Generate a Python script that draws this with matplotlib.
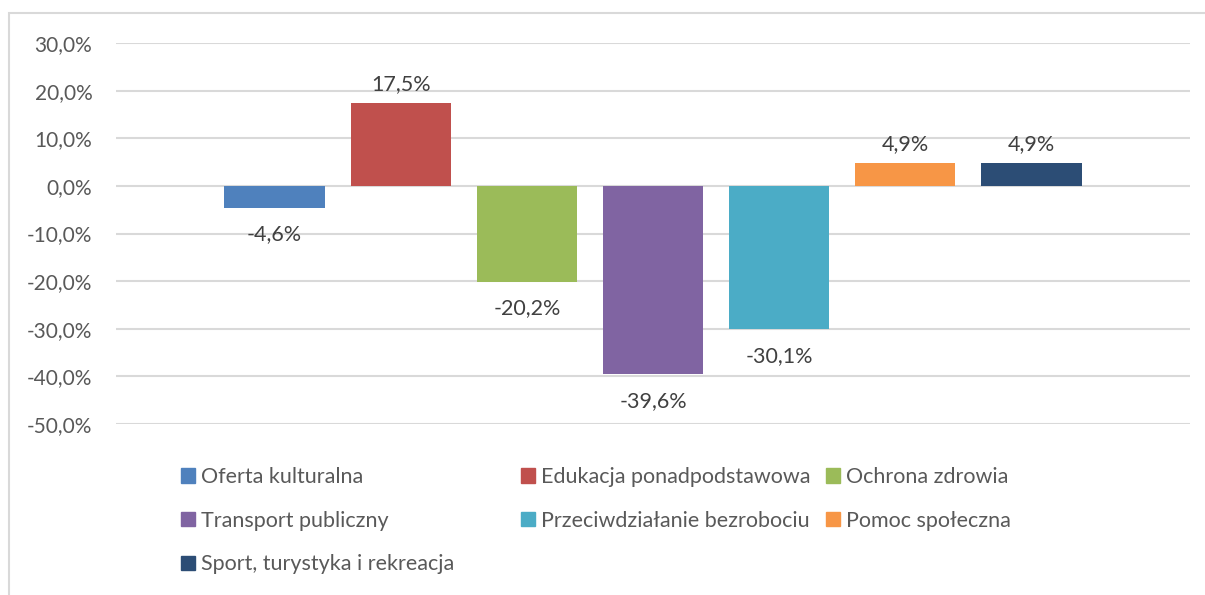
import matplotlib
matplotlib.use("Agg")
import matplotlib.pyplot as plt
from matplotlib.patches import Rectangle, Patch

plt.rcParams['font.family'] = ['Lato', 'DejaVu Sans']

categories = ['Oferta kulturalna', 'Edukacja ponadpodstawowa', 'Ochrona zdrowia',
              'Transport publiczny', 'Przeciwdziałanie bezrobociu', 'Pomoc społeczna',
              'Sport, turystyka i rekreacja']
values = [-4.6, 17.5, -20.2, -39.6, -30.1, 4.9, 4.9]
colors = ['#4F81BD', '#C0504D', '#9BBB59', '#8064A2', '#4BACC6', '#F79646', '#2C4D75']
yticks = [30, 20, 10, 0, -10, -20, -30, -40, -50]

txt = '#595959'
grid = '#D9D9D9'
W, H = 1205, 595

fig = plt.figure(figsize=(W / 100, H / 100), dpi=100)
ax = fig.add_axes([116 / W, 1 - 424 / H, (1190 - 116) / W, (424 - 43) / H])

def pct(v):
    return f'{v:.1f}%'.replace('.', ',')

for i, (v, c) in enumerate(zip(values, colors)):
    ax.bar(i, v, width=0.793, color=c, zorder=3)
    off = 13 if v >= 0 else -19
    ax.annotate(pct(v), (i, v), xytext=(0, off), textcoords='offset points',
                ha='center', va='center', fontsize=15.5, color='#404040')

ax.set_xlim(-1.256, 7.256)
ax.set_ylim(-50, 30)
ax.set_yticks(yticks)
ax.set_yticklabels([pct(t) for t in yticks])
ax.set_xticks([])
ax.tick_params(axis='y', length=0, pad=17, labelsize=15, labelcolor=txt)
ax.grid(axis='y', color=grid, linewidth=1.5, zorder=0)
for s in ax.spines.values():
    s.set_visible(False)

# chart frame
fig.patches.append(Rectangle((9 / W, -0.1), 1.2, 1.1 - 13 / H, transform=fig.transFigure,
                             fill=False, edgecolor=grid, linewidth=1.5))

# legend in three columns, filled row by row
col_x = [181, 521, 826]
for col in range(3):
    idx = list(range(col, len(categories), 3))
    handles = [Patch(color=colors[i], label=categories[i]) for i in idx]
    fig.legend(handles=handles, loc='upper left',
               bbox_to_anchor=(col_x[col] / W, 1 - 467 / H), frameon=False,
               fontsize=15.5, labelcolor=txt, handlelength=0.65, handleheight=0.65,
               handletextpad=0.3, labelspacing=1.1, borderpad=0, borderaxespad=0)

fig.savefig('out.png', dpi=100)
